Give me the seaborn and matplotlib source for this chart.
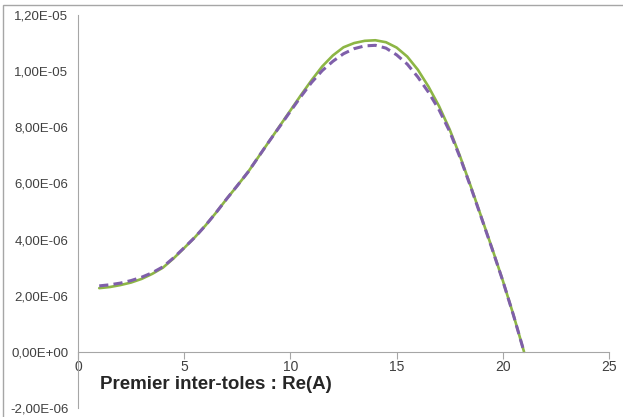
import numpy as np
import pandas as pd
import matplotlib
matplotlib.use("Agg")
import matplotlib.pyplot as plt
import matplotlib.ticker as mticker
from matplotlib.patches import Rectangle
import seaborn as sns

x_vals = [1, 1.5, 2, 2.5, 3, 3.5, 4, 4.5, 5, 5.5, 6, 6.5, 7, 7.5, 8, 8.5, 9, 9.5, 10, 10.5,
          11, 11.5, 12, 12.5, 13, 13.5, 14, 14.5, 15, 15.5, 16, 16.5, 17, 17.5, 18, 18.5,
          19, 19.5, 20, 20.5, 21]
green_vals = [2.27e-6, 2.31e-6, 2.38e-6, 2.47e-6, 2.60e-6, 2.78e-6, 3.00e-6, 3.33e-6, 3.70e-6,
              4.08e-6, 4.50e-6, 4.96e-6, 5.45e-6, 5.92e-6, 6.40e-6, 6.95e-6, 7.50e-6, 8.05e-6,
              8.60e-6, 9.15e-6, 9.68e-6, 1.017e-5, 1.056e-5, 1.085e-5, 1.100e-5, 1.108e-5,
              1.110e-5, 1.103e-5, 1.084e-5, 1.052e-5, 1.005e-5, 9.45e-6, 8.75e-6, 7.92e-6,
              6.94e-6, 5.88e-6, 4.78e-6, 3.68e-6, 2.54e-6, 1.32e-6, 0.0]
purple_vals = [2.35e-6, 2.39e-6, 2.45e-6, 2.54e-6, 2.66e-6, 2.82e-6, 3.03e-6, 3.35e-6, 3.71e-6,
               4.08e-6, 4.50e-6, 4.96e-6, 5.45e-6, 5.92e-6, 6.40e-6, 6.95e-6, 7.50e-6, 8.03e-6,
               8.57e-6, 9.10e-6, 9.60e-6, 1.002e-5, 1.035e-5, 1.062e-5, 1.080e-5, 1.090e-5,
               1.092e-5, 1.082e-5, 1.058e-5, 1.025e-5, 9.79e-6, 9.25e-6, 8.62e-6, 7.85e-6,
               6.90e-6, 5.85e-6, 4.76e-6, 3.66e-6, 2.53e-6, 1.31e-6, 0.0]
x_ticks = [0, 5, 10, 15, 20, 25]
y_ticks = [-2e-6, 0, 2e-6, 4e-6, 6e-6, 8e-6, 1e-5, 1.2e-5]
annotation = "Premier inter-toles : Re(A)"

sns.set_style("white")
plt.rcParams['font.family'] = ['Liberation Sans', 'DejaVu Sans']

df = pd.DataFrame({"x": x_vals, "green": green_vals, "purple": purple_vals})

fig = plt.figure(figsize=(6.23, 4.17), dpi=100)
ax = fig.add_axes([78/623, 1-408/417, (609-78)/623, (408-15)/417])

sns.lineplot(data=df, x="x", y="green", ax=ax, color="#8DB645", linewidth=1.9)
sns.lineplot(data=df, x="x", y="purple", ax=ax, color="#7F5FAA", linewidth=2.2,
             dashes=False, linestyle=(0, (3.0, 1.7)))

ax.set_xlim(0, 25)
ax.set_ylim(-2e-6, 1.2e-5)
ax.set_xticks(x_ticks)
ax.set_yticks(y_ticks)
ax.yaxis.set_major_formatter(mticker.FuncFormatter(
    lambda v, p: ("%.2E" % v).replace('.', ',') if abs(v) > 1e-12 else "0,00E+00"))
ax.set_xlabel("")
ax.set_ylabel("")

for s in ["top", "right"]:
    ax.spines[s].set_visible(False)
ax.spines["left"].set_color("#A6A6A6")
ax.spines["bottom"].set_color("#A6A6A6")
ax.spines["left"].set_linewidth(0.8)
ax.spines["bottom"].set_linewidth(0.8)
ax.spines["bottom"].set_position(("data", 0))

ax.tick_params(axis="y", direction="out", length=4, width=0.8, color="#A6A6A6",
               labelsize=9.5, labelcolor="#404040", pad=3)
ax.tick_params(axis="x", direction="out", length=5, width=0.8, color="#A6A6A6",
               labelsize=10, labelcolor="#404040", pad=1, bottom=True)

ax.text(1.05, -1.15e-6, annotation, fontsize=13.5, fontweight="bold", color="#262626",
        va="center", ha="left")

fig.patches.append(Rectangle((3/623, -0.1), 1.2, 1 - 5/417 + 0.1, transform=fig.transFigure,
                             fill=False, edgecolor="#A6A6A6", linewidth=1.0))

fig.savefig("out.png", dpi=100)
